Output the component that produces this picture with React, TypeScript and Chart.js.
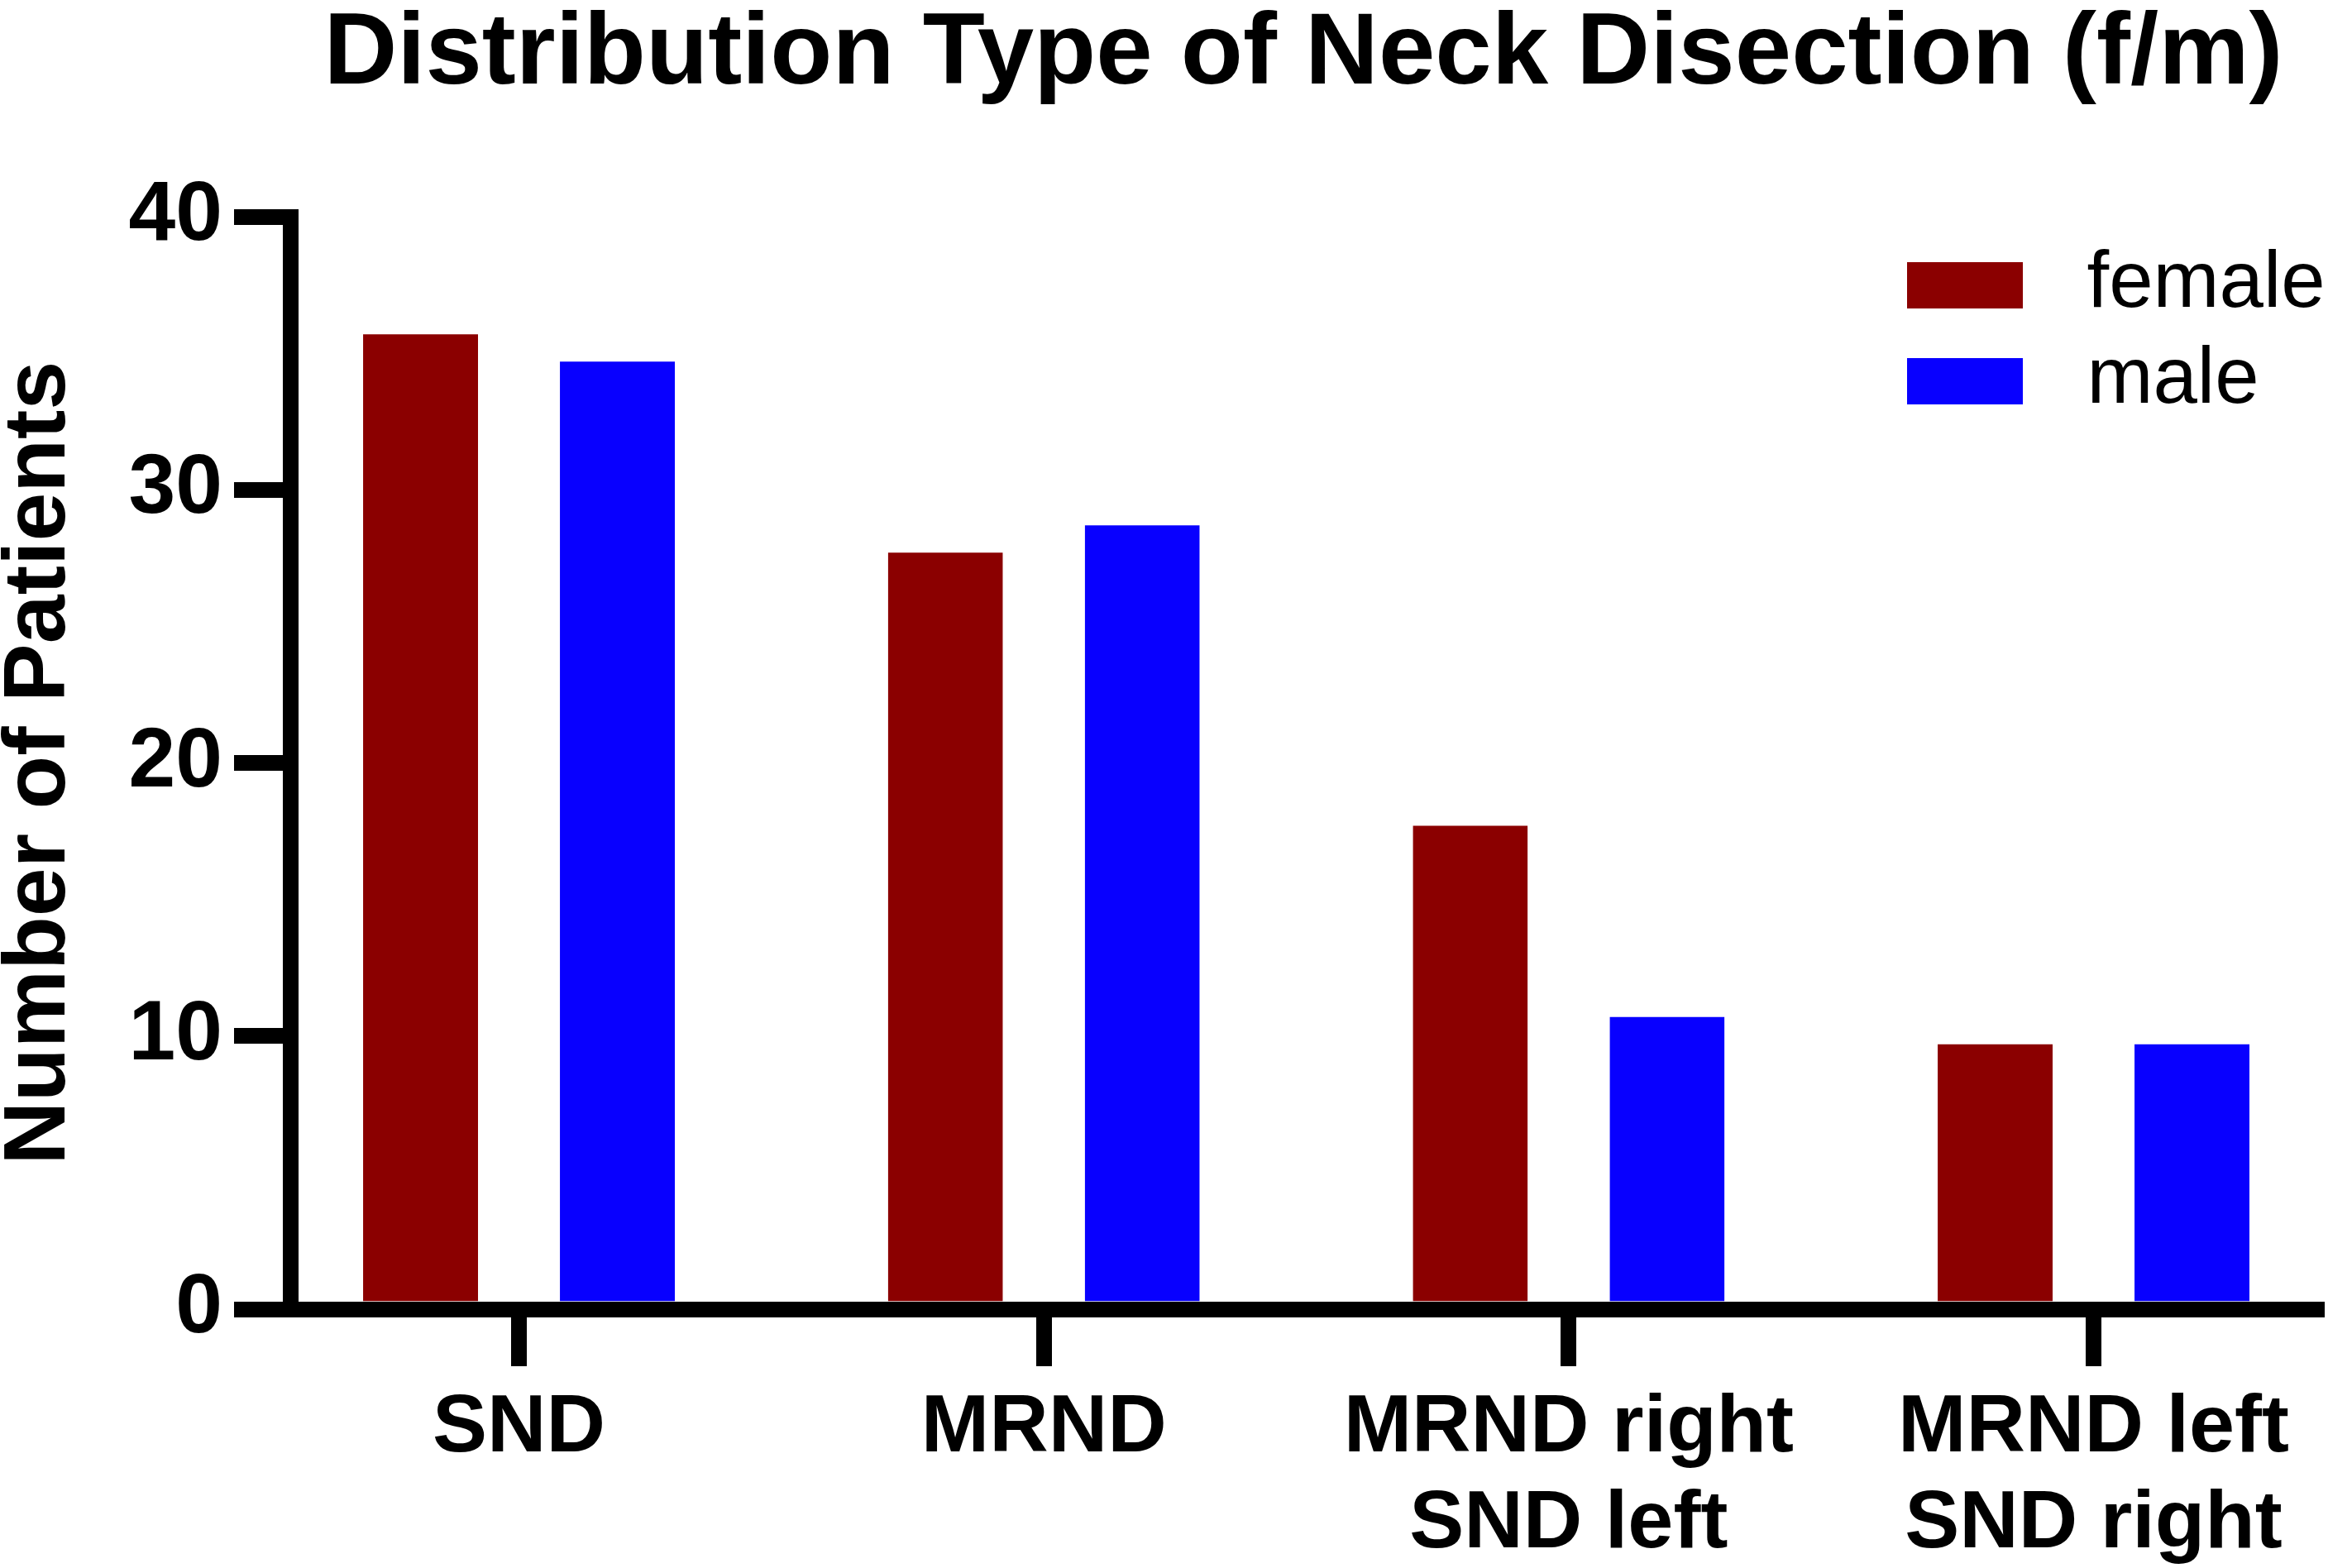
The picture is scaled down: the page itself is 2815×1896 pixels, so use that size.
import React, { useEffect, useRef } from "react";
import { Chart, registerables } from "chart.js";

Chart.register(...registerables);

// ---- data ----
const categories: string[][] = [
  ["SND"],
  ["MRND"],
  ["MRND right", "SND left"],
  ["MRND left", "SND right"],
];
const seriesLabels = ["female", "male"];
const femaleValues = [36, 28, 18, 10];
const maleValues = [35, 29, 11, 10];
const yMin = 0;
const yMax = 40;
const yStep = 10;
const titleText = "Distribution Type of Neck Disection (f/m)";
const yTitleText = "Number of Patients";

// ---- style ----
const W = 2815;
const H = 1896;
const FONT = "'Liberation Sans', Arial, Helvetica, sans-serif";
const FEMALE_COLOR = "#8B0000";
const MALE_COLOR = "#0800FF";
const AXIS_W = 19;

function swatch(color: string): HTMLCanvasElement {
  const c = document.createElement("canvas");
  c.width = 140;
  c.height = 56;
  const ctx = c.getContext("2d")!;
  ctx.fillStyle = color;
  ctx.fillRect(0, 0, 140, 56);
  return c;
}

const legendPlacer = {
  id: "legendPlacer",
  beforeDraw(chart: any) {
    const lg = chart.legend;
    if (!lg) return;
    const ca = chart.chartArea;
    lg.left = ca.left + 1905.5;
    lg.top = ca.top + 14.5;
    lg.right = lg.left + lg.width;
    lg.bottom = lg.top + lg.height;
  },
};

export default function App() {
  const ref = useRef<HTMLCanvasElement | null>(null);

  useEffect(() => {
    document.body.style.margin = "0";
    const canvas = ref.current;
    if (!canvas) return;

    const barCommon = {
      borderColor: "rgba(0,0,0,0)",
      borderWidth: { top: 10, left: 0, right: 0, bottom: 0 },
      borderSkipped: "bottom",
      categoryPercentage: 0.75,
      barPercentage: 0.584,
    };

    const chart = new Chart(canvas, {
      type: "bar",
      data: {
        datasets: [
          {
            label: seriesLabels[0],
            data: femaleValues.map((y, i) => ({ x: i, y })),
            backgroundColor: FEMALE_COLOR,
            pointStyle: swatch(FEMALE_COLOR),
            ...barCommon,
          } as any,
          {
            label: seriesLabels[1],
            data: maleValues.map((y, i) => ({ x: i, y })),
            backgroundColor: MALE_COLOR,
            pointStyle: swatch(MALE_COLOR),
            ...barCommon,
          } as any,
        ],
      },
      options: {
        responsive: false,
        maintainAspectRatio: false,
        devicePixelRatio: 1,
        animation: false,
        events: [],
        layout: { padding: { left: 0, right: 14, top: 0, bottom: 0 } },
        scales: {
          x: {
            type: "linear",
            min: -0.4357,
            max: 3.4246,
            offset: false,
            bounds: "data",
            afterBuildTicks: (axis: any) => {
              axis.ticks = categories.map((_, i) => ({ value: i }));
            },
            afterFit: (s: any) => {
              s.height = 313;
            },
            grid: {
              display: true,
              offset: false,
              drawOnChartArea: false,
              drawTicks: true,
              tickLength: 69,
              lineWidth: AXIS_W,
              color: "#000",
            },
            border: { display: true, width: AXIS_W, color: "#000" },
            ticks: {
              callback: (v: any) => categories[v as number],
              autoSkip: false,
              maxRotation: 0,
              minRotation: 0,
              padding: 18,
              color: "#000",
              font: { family: FONT, size: 99, weight: "bold", lineHeight: 1.17 },
            },
          },
          y: {
            type: "linear",
            min: yMin,
            max: yMax,
            afterFit: (s: any) => {
              s.width = 351;
            },
            grid: {
              display: true,
              drawOnChartArea: false,
              drawTicks: true,
              tickLength: 68,
              lineWidth: AXIS_W,
              color: "#000",
            },
            border: { display: true, width: AXIS_W, color: "#000" },
            ticks: {
              stepSize: yStep,
              padding: 14,
              color: "#000",
              font: { family: FONT, size: 102, weight: "bold", lineHeight: 1.2 },
            },
            title: {
              display: true,
              text: yTitleText,
              color: "#000",
              font: { family: FONT, size: 106, weight: "bold", lineHeight: 0.8 },
              padding: { top: 6, bottom: 0 },
            },
          },
        },
        plugins: {
          title: {
            display: true,
            text: titleText,
            fullSize: false,
            color: "#000",
            font: { family: FONT, size: 123, weight: "bold", lineHeight: 1.09 },
            padding: { top: 0, bottom: 128 },
          },
          legend: {
            display: true,
            position: "chartArea" as any,
            align: "start",
            labels: {
              usePointStyle: true,
              pointStyleWidth: 199,
              padding: 20,
              color: "#000",
              font: { family: FONT, size: 96, weight: "normal" },
            },
          },
          tooltip: { enabled: false },
        },
      } as any,
      plugins: [legendPlacer],
    });

    return () => chart.destroy();
  }, []);

  return (
    <div style={{ width: W, height: H, background: "#fff" }}>
      <canvas ref={ref} width={W} height={H} style={{ width: W, height: H, display: "block" }} />
    </div>
  );
}
